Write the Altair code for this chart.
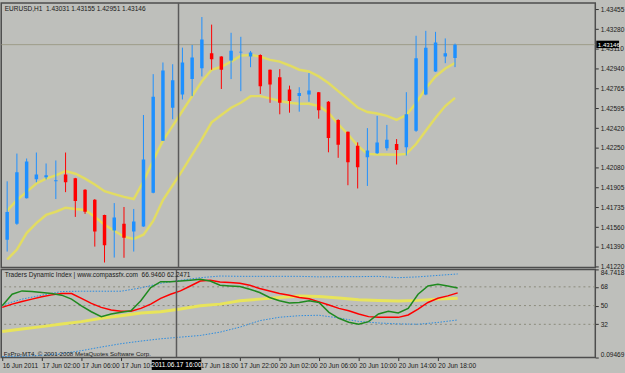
import json
import altair as alt
import pandas as pd

# ---------------- data ----------------
bar_idx = list(range(47))
opens = [1.41452, 1.41590, 1.41813, 1.41976, 1.41994, 1.41959, 1.42019, 1.41985, 1.41886, 1.41800,
         1.41667, 1.41532, 1.41590, 1.41523, 1.41566, 1.41859, 1.42312, 1.42598, 1.42713, 1.42847,
         1.42942, 1.43071, 1.43042, 1.43008, 1.43077, 1.43042, 1.43057, 1.42928, 1.42862, 1.42756,
         1.42699, 1.42713, 1.42733, 1.42650, 1.42492, 1.42389, 1.42269, 1.42168, 1.42203, 1.42246,
         1.42283, 1.42254, 1.42398, 1.42713, 1.42913, 1.43042, 1.43031]
highs = [1.41959, 1.42200, 1.42157, 1.42209, 1.42114, 1.42140, 1.42209, 1.41989, 1.41891, 1.41805,
         1.41669, 1.41770, 1.41736, 1.41719, 1.42535, 1.42890, 1.42991, 1.42976, 1.43120, 1.43143,
         1.43386, 1.43320, 1.43045, 1.43249, 1.43214, 1.43091, 1.43062, 1.42930, 1.42933, 1.42790,
         1.42776, 1.42899, 1.42735, 1.42656, 1.42498, 1.42391, 1.42297, 1.42421, 1.42527, 1.42449,
         1.42326, 1.42733, 1.43223, 1.43266, 1.43257, 1.43200, 1.43155]
lows = [1.41349, 1.41581, 1.41810, 1.41951, 1.41976, 1.41805, 1.41865, 1.41650, 1.41676, 1.41392,
        1.41254, 1.41297, 1.41295, 1.41349, 1.41564, 1.41855, 1.42310, 1.42498, 1.42670, 1.42699,
        1.42870, 1.42928, 1.42761, 1.42847, 1.42742, 1.42950, 1.42718, 1.42641, 1.42541, 1.42555,
        1.42564, 1.42650, 1.42503, 1.42211, 1.42163, 1.41925, 1.41897, 1.41919, 1.42197, 1.42226,
        1.42105, 1.42183, 1.42389, 1.42707, 1.42910, 1.42985, 1.42951]
closes = [1.41693, 1.42037, 1.42131, 1.42019, 1.42011, 1.41968, 1.41951, 1.41787, 1.41695, 1.41523,
          1.41403, 1.41644, 1.41469, 1.41609, 1.42148, 1.42693, 1.42922, 1.42836, 1.42991, 1.43034,
          1.43191, 1.43019, 1.42928, 1.43094, 1.43085, 1.43077, 1.42785, 1.42799, 1.42641, 1.42656,
          1.42727, 1.42748, 1.42576, 1.42335, 1.42277, 1.42125, 1.42082, 1.42226, 1.42297, 1.42320,
          1.42232, 1.42541, 1.43028, 1.43120, 1.43165, 1.43071, 1.43146]
upper_env = [1.41704, 1.41796, 1.41867, 1.41940, 1.41982, 1.42011, 1.42048, 1.42025, 1.41982, 1.41931,
             1.41873, 1.41848, 1.41824, 1.41805, 1.41959, 1.42140, 1.42312, 1.42441, 1.42570, 1.42699,
             1.42828, 1.42928, 1.42954, 1.42999, 1.43051, 1.43057, 1.43042, 1.43014, 1.42999, 1.42965,
             1.42928, 1.42913, 1.42870, 1.42813, 1.42742, 1.42673, 1.42600, 1.42561, 1.42548, 1.42527,
             1.42492, 1.42535, 1.42638, 1.42767, 1.42870, 1.42939, 1.42987]
lower_env = [1.41280, 1.41366, 1.41510, 1.41596, 1.41667, 1.41695, 1.41730, 1.41719, 1.41710, 1.41652,
             1.41581, 1.41530, 1.41478, 1.41459, 1.41495, 1.41615, 1.41796, 1.41925, 1.42054, 1.42191,
             1.42326, 1.42471, 1.42535, 1.42598, 1.42641, 1.42699, 1.42699, 1.42679, 1.42656, 1.42641,
             1.42632, 1.42632, 1.42613, 1.42555, 1.42455, 1.42368, 1.42269, 1.42197, 1.42191, 1.42191,
             1.42189, 1.42197, 1.42283, 1.42398, 1.42512, 1.42613, 1.42684]

tdi_green = [49.8, 60.9, 64.1, 63.5, 62.6, 61.6, 60.0, 56.2, 49.8, 44.1,
             39.4, 41.9, 43.5, 45.0, 54.6, 67.3, 73.0, 73.0, 73.6, 74.3,
             75.2, 73.6, 69.5, 68.8, 68.3, 65.7, 62.6, 57.8, 54.6, 52.4,
             53.0, 54.6, 53.0, 43.5, 37.8, 34.0, 32.1, 34.6, 41.9, 44.5,
             42.9, 47.3, 60.9, 68.8, 70.5, 68.8, 66.9460]
tdi_red = [48.3, 51.4, 54.0, 56.2, 58.4, 60.3, 61.6, 61.6, 56.9, 52.1,
           48.3, 45.7, 44.5, 44.5, 47.3, 51.4, 56.9, 60.9, 64.1, 68.8,
           73.6, 74.3, 72.6, 72.1, 71.4, 69.5, 66.4, 64.1, 61.6, 60.0,
           57.8, 56.6, 53.6, 50.5, 47.3, 45.0, 41.9, 39.4, 38.7, 38.7,
           38.7, 41.0, 46.7, 53.0, 57.1, 59.3, 62.2471]
tdi_idx2 = list(range(0, 47, 2))
tdi_base = [25.1, 27.6, 29.8, 32.4, 34.6, 37.8, 40.3, 42.9, 44.1, 46.7, 49.8, 51.4,
            54.6, 56.2, 57.8, 59.3, 58.8, 57.3, 55.7, 54.9, 54.5, 55.0, 56.2, 57.1]
tdi_vb_up = [50.5, 56.2, 60.0, 63.5, 63.8, 63.8, 63.8, 67.0, 71.4, 74.3, 76.8, 78.4,
             78.1, 78.1, 78.1, 78.1, 77.6, 77.8, 77.8, 78.1, 76.8, 77.6, 79.0, 80.4]
tdi_vb_dn = [1.0, 1.5, 2.2, 3.9, 6.7, 10.2, 13.4, 15.9, 18.1, 19.7, 21.3, 24.5,
             29.3, 35.5, 38.8, 40.3, 40.7, 38.1, 34.8, 33.3, 32.4, 32.1, 33.8, 36.2]
tdi_levels = [68, 50, 32]

price_ticks = [1.43455, 1.43280, 1.43110, 1.42940, 1.42765, 1.42595, 1.42420,
               1.42250, 1.42080, 1.41905, 1.41735, 1.41560, 1.41390, 1.41220]
price_domain = [1.41211, 1.43507]
tdi_ticks = [0.09469, 32, 50, 68, 84.7418]
time_ticks = [0, 4, 8, 12, 16, 20, 24, 28, 32, 36, 40, 44]
time_labels = ["16 Jun 2011", "17 Jun 02:00", "17 Jun 06:00", "17 Jun 10:00", "17 Jun 14:00",
               "17 Jun 18:00", "17 Jun 22:00", "20 Jun 02:00", "20 Jun 06:00", "20 Jun 10:00",
               "20 Jun 14:00", "20 Jun 18:00"]
cursor_bar = 17.6
cursor_label = "2011.06.17 16:00"
symbol = "EURUSD,H1"
tdi_name = "Traders Dynamic Index | www.compassfx.com"
copyright_txt = "FxPro-MT4, \u00a9 2001-2008 MetaQuotes Software Corp."

# ---------------- style ----------------
BG = "#bebfbb"
FONT = "Liberation Sans"
TXT = "#1a1a1a"
FS = 6.6
BLUE = "#1e90ff"
RED = "#ff0000"
YEL = "#e2dc62"
NB = "\u00a0"

xscale = alt.Scale(domain=[-0.1, 59.9], nice=False, zero=False)
pscale = alt.Scale(domain=price_domain, nice=False, zero=False)
tscale = alt.Scale(domain=[tdi_ticks[0], tdi_ticks[-1]], nice=False, zero=False)
cscale = alt.Scale(domain=["up", "down"], range=[BLUE, RED])

price_axis = alt.Axis(orient="right", values=price_ticks, format=".5f", title=None, grid=False,
                      domain=False, tickSize=3, tickColor="#333333", labelColor=TXT,
                      labelFontSize=FS, labelFont=FONT, labelPadding=2)
tdi_axis = alt.Axis(orient="right", values=tdi_ticks, labelExpr="toString(datum.value)",
                    labelFlush=True, title=None, grid=False, domain=False, tickSize=3,
                    tickColor="#333333", labelColor=TXT, labelFontSize=FS, labelFont=FONT,
                    labelPadding=2)
time_expr = json.dumps(time_labels) + "[round(datum.value / 4)]"
time_axis = alt.Axis(values=time_ticks, labelExpr=time_expr, labelAlign="left",
                     labelBaseline="top", labelPadding=2.5, labelOverlap=False, title=None,
                     grid=False, domain=False, tickSize=3, tickColor="#333333",
                     labelColor=TXT, labelFontSize=FS, labelFont=FONT)

X_top = alt.X("bar:Q", scale=xscale, axis=None)
X_bot = alt.X("bar:Q", scale=xscale, axis=time_axis)

# ---------------- price panel ----------------
candles = pd.DataFrame({"bar": bar_idx, "open": opens, "high": highs, "low": lows, "close": closes})
candles["dir"] = ["up" if c >= o else "down" for o, c in zip(opens, closes)]
env = pd.DataFrame({"bar": bar_idx, "upper": upper_env, "lower": lower_env})
cur = pd.DataFrame({"price": [closes[-1]], "label": [f"{closes[-1]:.5f}"]})
cursor_df = pd.DataFrame({"bar": [cursor_bar], "label": [cursor_label]})
header = (f"{symbol}{NB}{NB}{opens[-1]:.5f}{NB}{highs[-1]:.5f}{NB}"
          f"{lows[-1]:.5f}{NB}{closes[-1]:.5f}")
head_df = pd.DataFrame({"t": [header]})

cur_line = alt.Chart(cur).mark_rule(color="#9d9c88", strokeWidth=1, clip=True).encode(
    y=alt.Y("price:Q", scale=pscale, axis=price_axis))
up_line = alt.Chart(env).mark_line(color=YEL, strokeWidth=2.5, clip=True).encode(
    x=X_top, y=alt.Y("upper:Q", scale=pscale, axis=price_axis))
lo_line = alt.Chart(env).mark_line(color=YEL, strokeWidth=2.5, clip=True).encode(
    x=X_top, y=alt.Y("lower:Q", scale=pscale, axis=price_axis))
wicks = alt.Chart(candles).mark_rule(strokeWidth=1, clip=True).encode(
    x=X_top, y=alt.Y("low:Q", scale=pscale, axis=price_axis), y2="high:Q",
    color=alt.Color("dir:N", scale=cscale, legend=None))
bodies = alt.Chart(candles).mark_bar(size=3.5, clip=True).encode(
    x=X_top, y=alt.Y("open:Q", scale=pscale, axis=price_axis), y2="close:Q",
    color=alt.Color("dir:N", scale=cscale, legend=None))
cursor_top = alt.Chart(cursor_df).mark_rule(color="#5a5a5a", strokeWidth=1.5, clip=True).encode(
    x=X_top)
head_txt = alt.Chart(head_df).mark_text(align="left", baseline="middle", font=FONT, fontSize=FS,
                                        color=TXT).encode(
    x=alt.value(3.5), y=alt.value(6), text="t:N")
price_box = alt.Chart(cur).mark_rect(color="#000000", yOffset=-4, y2Offset=3.5).encode(
    x=alt.value(601), x2=alt.value(624),
    y=alt.Y("price:Q", scale=pscale, axis=price_axis), y2="price:Q")
price_box_txt = alt.Chart(cur).mark_text(align="left", baseline="middle", font=FONT, fontSize=6.2,
                                         color="#ffffff").encode(
    x=alt.value(602.5), y=alt.Y("price:Q", scale=pscale, axis=price_axis), text="label:N")

top = alt.layer(cur_line, up_line, lo_line, wicks, bodies, cursor_top, head_txt,
                price_box, price_box_txt).properties(width=600, height=267)

# ---------------- indicator panel ----------------
tdi = pd.DataFrame({"bar": bar_idx, "green": tdi_green, "red": tdi_red})
tdi2 = pd.DataFrame({"bar": tdi_idx2, "base": tdi_base, "vbu": tdi_vb_up, "vbd": tdi_vb_dn})
lev = pd.DataFrame({"level": tdi_levels})
tdi_head = pd.DataFrame({"t": [f"{tdi_name}{NB}{NB}{tdi_green[-1]:.4f}{NB}{tdi_red[-1]:.4f}"]})
copy_df = pd.DataFrame({"t": [copyright_txt]})

levels = alt.Chart(lev).mark_rule(color="#8b8b7b", strokeWidth=1, strokeDash=[2, 3],
                                  clip=True).encode(
    y=alt.Y("level:Q", scale=tscale, axis=tdi_axis))
vb_up = alt.Chart(tdi2).mark_line(color="#2a8ce0", strokeWidth=1, strokeDash=[1.5, 1.5],
                                  clip=True).encode(
    x=X_bot, y=alt.Y("vbu:Q", scale=tscale, axis=tdi_axis))
vb_dn = alt.Chart(tdi2).mark_line(color="#2a8ce0", strokeWidth=1, strokeDash=[1.5, 1.5],
                                  clip=True).encode(
    x=X_bot, y=alt.Y("vbd:Q", scale=tscale, axis=tdi_axis))
base_l = alt.Chart(tdi2).mark_line(color="#e8e45a", strokeWidth=3, clip=True).encode(
    x=X_bot, y=alt.Y("base:Q", scale=tscale, axis=tdi_axis))
red_l = alt.Chart(tdi).mark_line(color=RED, strokeWidth=1.5, clip=True).encode(
    x=X_bot, y=alt.Y("red:Q", scale=tscale, axis=tdi_axis))
green_l = alt.Chart(tdi).mark_line(color="#1f8a1f", strokeWidth=1.5, clip=True).encode(
    x=X_bot, y=alt.Y("green:Q", scale=tscale, axis=tdi_axis))
cursor_bot = alt.Chart(cursor_df).mark_rule(color="#5a5a5a", strokeWidth=1.5, clip=True).encode(
    x=X_bot)
tdi_txt = alt.Chart(tdi_head).mark_text(align="left", baseline="middle", font=FONT, fontSize=FS,
                                        color=TXT).encode(
    x=alt.value(3.5), y=alt.value(5.5), text="t:N")
copy_txt = alt.Chart(copy_df).mark_text(align="left", baseline="middle", font=FONT, fontSize=6.2,
                                        color=TXT).encode(
    x=alt.value(2.5), y=alt.value(85), text="t:N")
time_box = alt.Chart(cursor_df).mark_rect(color="#000000", xOffset=-25, x2Offset=25).encode(
    x=X_bot, x2="bar:Q", y=alt.value(91.5), y2=alt.value(101.5))
time_box_txt = alt.Chart(cursor_df).mark_text(align="center", baseline="middle", font=FONT,
                                              fontSize=FS, color="#ffffff").encode(
    x=X_bot, y=alt.value(96.5), text="label:N")

bottom = alt.layer(levels, vb_up, vb_dn, base_l, red_l, green_l, cursor_bot, tdi_txt, copy_txt,
                   time_box, time_box_txt).properties(width=600, height=89)

chart = alt.vconcat(top, bottom, spacing=2, bounds="flush").configure(
    background=BG,
    padding={"left": 0.25, "top": 0.25, "right": 0, "bottom": 0},
).configure_view(stroke="#4d4d4d", strokeWidth=1.5)

chart.save("out.html", embed_options={"renderer": "svg", "actions": False})
